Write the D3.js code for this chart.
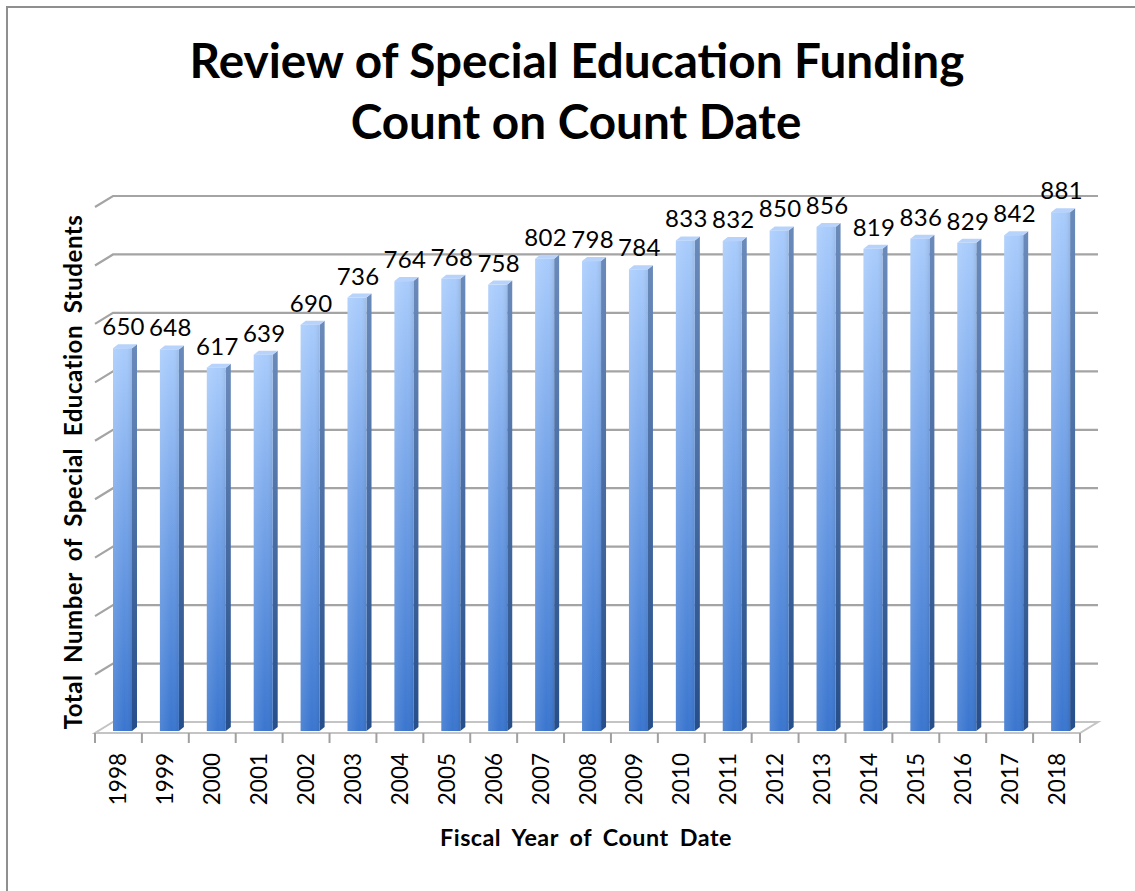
<!DOCTYPE html>
<html>
<head>
<meta charset="utf-8">
<script src="https://cdn.jsdelivr.net/npm/d3@7"></script>
<style>
  html, body { margin: 0; padding: 0; background: #fff; }
  svg { display: block; }
  text { font-family: Lato, "Open Sans", sans-serif; fill: #000; }
</style>
</head>
<body>
<svg id="chart" width="1135" height="891"></svg>
<script>
// Special education headcount on the count date, by fiscal year
const years = ["1998","1999","2000","2001","2002","2003","2004","2005","2006","2007",
               "2008","2009","2010","2011","2012","2013","2014","2015","2016","2017","2018"];
const students = [650, 648, 617, 639, 690, 736, 764, 768, 758, 802,
                  798, 784, 833, 832, 850, 856, 819, 836, 829, 842, 881];
const gridValues = [0, 100, 200, 300, 400, 500, 600, 700, 800, 900];
const titleLines = ["Review of Special Education Funding", "Count on Count Date"];
const yAxisTitle = "Total Number of Special Education Students";
const xAxisTitle = "Fiscal Year of Count Date";

const svg = d3.select("#chart");
const W = 1135, H = 891;

// outer frame
svg.append("rect")
  .attr("x", 7).attr("y", 7).attr("width", W + 10).attr("height", H + 10)
  .attr("fill", "#fff").attr("stroke", "#8f8f8f").attr("stroke-width", 2);

// 3D depth offset of the back wall relative to the front plane
const depthX = 18, depthY = -11;

const x = d3.scaleBand().domain(years).range([95, 1080]).paddingInner(0).paddingOuter(0);
const y = d3.scaleLinear().domain([0, 900]).range([731, 201]);      // bar plane
const yWall = d3.scaleLinear().domain([0, 900]).range([722, 196]);  // back wall

const defs = svg.append("defs");
const gFront = defs.append("linearGradient").attr("id", "barFront")
  .attr("x1", 0).attr("y1", 0).attr("x2", 0).attr("y2", 1);
gFront.append("stop").attr("offset", "0%").attr("stop-color", "#a9ccfc");
gFront.append("stop").attr("offset", "50%").attr("stop-color", "#6f9fe6");
gFront.append("stop").attr("offset", "100%").attr("stop-color", "#3a76cf");
const gSide = defs.append("linearGradient").attr("id", "barSide")
  .attr("x1", 0).attr("y1", 0).attr("x2", 0).attr("y2", 1);
gSide.append("stop").attr("offset", "0%").attr("stop-color", "#6a8aba");
gSide.append("stop").attr("offset", "100%").attr("stop-color", "#264e8a");
const gShade = defs.append("linearGradient").attr("id", "barShade")
  .attr("x1", 0).attr("y1", 0).attr("x2", 1).attr("y2", 0);
gShade.append("stop").attr("offset", "0%").attr("stop-color", "#ffffff").attr("stop-opacity", 0.12);
gShade.append("stop").attr("offset", "60%").attr("stop-color", "#ffffff").attr("stop-opacity", 0);
gShade.append("stop").attr("offset", "100%").attr("stop-color", "#000000").attr("stop-opacity", 0.08);

const x0 = x.range()[0], x1 = x.range()[1];
const gridColor = "#a4a4a4";

// floor
const floorBack = yWall(0), floorFront = 733;
svg.append("path")
  .attr("d", `M${x0},${floorFront} L${x1},${floorFront} L${x1 + depthX},${floorBack} L${x0 + depthX},${floorBack} Z`)
  .attr("fill", "#fff").attr("stroke", "#c4c4c4").attr("stroke-width", 2);

// back wall gridlines with left-wall return
const grid = svg.append("g");
grid.selectAll("path").data(gridValues.slice(1)).join("path")
  .attr("d", v => `M${x0},${yWall(v) - depthY} L${x0 + depthX},${yWall(v)} L${x1 + depthX},${yWall(v)}`)
  .attr("fill", "none").attr("stroke", gridColor).attr("stroke-width", 2.2);

// category ticks along the front floor edge
svg.append("g").selectAll("line").data(years.concat(["end"])).join("line")
  .attr("x1", (d, i) => x0 + i * x.bandwidth()).attr("x2", (d, i) => x0 + i * x.bandwidth())
  .attr("y1", floorFront).attr("y2", floorFront + 10)
  .attr("stroke", "#a0a0a0").attr("stroke-width", 2);

// columns
const faceW = 19, sideW = 5, sideH = 4, faceOff = 18;
const bars = svg.append("g").selectAll("g").data(years.map((yr, i) => ({ yr, v: students[i] }))).join("g");
bars.append("path")   // side face
  .attr("d", d => {
    const l = x(d.yr) + faceOff + faceW, t = y(d.v), b = y(0);
    return `M${l},${t} L${l + sideW},${t - sideH} L${l + sideW},${b - sideH} L${l},${b} Z`;
  })
  .attr("fill", "url(#barSide)");
bars.append("path")   // top face
  .attr("d", d => {
    const l = x(d.yr) + faceOff, t = y(d.v);
    return `M${l},${t} L${l + sideW},${t - sideH} L${l + faceW + sideW},${t - sideH} L${l + faceW},${t} Z`;
  })
  .attr("fill", "#b8d3fb");
bars.append("rect")   // front face
  .attr("x", d => x(d.yr) + faceOff).attr("y", d => y(d.v))
  .attr("width", faceW).attr("height", d => y(0) - y(d.v))
  .attr("fill", "url(#barFront)");
bars.append("rect")
  .attr("x", d => x(d.yr) + faceOff).attr("y", d => y(d.v))
  .attr("width", faceW).attr("height", d => y(0) - y(d.v))
  .attr("fill", "url(#barShade)");

// value labels
bars.append("text")
  .attr("x", d => x(d.yr) + faceOff + faceW / 2 + 1)
  .attr("y", d => y(d.v) - 13)
  .attr("text-anchor", "middle")
  .attr("font-size", 24)
  .attr("letter-spacing", 0.3)
  .text(d => d.v);

// year labels (rotated)
svg.append("g").selectAll("text").data(years).join("text")
  .attr("transform", d => `translate(${x(d) + x.bandwidth() / 2 + 8},753) rotate(-90)`)
  .attr("text-anchor", "end")
  .attr("font-size", 22.5)
  .text(d => d);

// title
const title = svg.append("g");
const t1 = title.append("text").attr("x", 577).attr("y", 78)
  .attr("text-anchor", "middle").attr("font-weight", 700).attr("font-size", 46).text(titleLines[0]);
const w1 = t1.node().getComputedTextLength();
const fs = 46 * 775 / w1;
t1.attr("font-size", fs);
title.append("text").attr("x", 576).attr("y", 139)
  .attr("text-anchor", "middle").attr("font-weight", 700).attr("font-size", fs).text(titleLines[1]);

// size a title (with slightly wide word gaps) so it spans its target length
function fitTitle(sel, target) {
  const base = 20;
  sel.attr("font-size", base).attr("word-spacing", base * 0.22).attr("letter-spacing", base * 0.02);
  const w = sel.node().getComputedTextLength();
  const f = base * target / w;
  sel.attr("font-size", f).attr("word-spacing", f * 0.22).attr("letter-spacing", f * 0.02);
}

// axis titles
const yt = svg.append("text")
  .attr("transform", "translate(82,472) rotate(-90)")
  .attr("text-anchor", "middle").attr("font-weight", 700)
  .text(yAxisTitle);
fitTitle(yt, 515);
const xt = svg.append("text")
  .attr("x", 586).attr("y", 846)
  .attr("text-anchor", "middle").attr("font-weight", 700)
  .text(xAxisTitle);
fitTitle(xt, 292);
</script>
</body>
</html>
